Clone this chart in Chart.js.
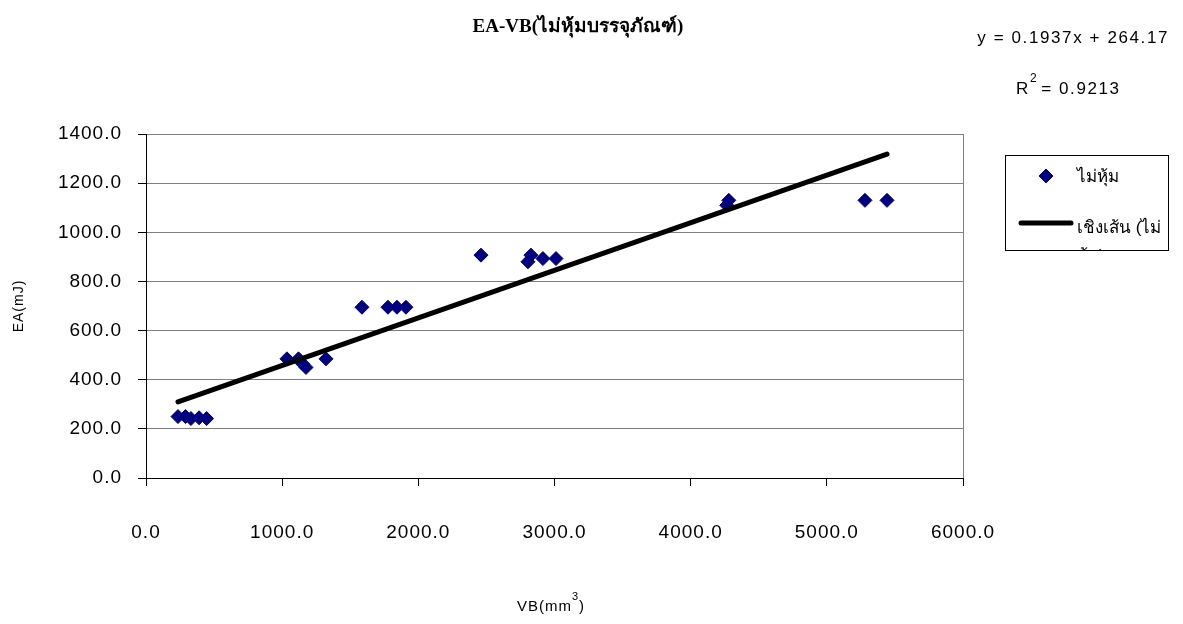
<!DOCTYPE html>
<html>
<head>
<meta charset="utf-8">
<script src="https://cdn.jsdelivr.net/npm/chart.js@4/dist/chart.umd.min.js"></script>
<style>
  html, body { margin: 0; padding: 0; background: #fff; }
  #wrap { width: 1183px; height: 624px; }
</style>
</head>
<body>
<div id="wrap"><canvas id="eaChart" width="1183" height="624"></canvas></div>
<script>
// data
const vb = [235, 290, 330, 390, 445, 1035, 1120, 1150, 1175, 1322, 1586, 1777, 1843, 1909, 2460, 2805, 2827, 2915, 3011, 4265, 4280, 5280, 5442];
const ea = [250, 250, 242, 245, 242, 485, 485, 465, 450, 485, 695, 695, 695, 695, 907, 880, 907, 893, 893, 1110, 1130, 1130, 1130];
const seriesName = 'ไม่หุ้ม';
const trendName = 'เชิงเส้น (ไม่หุ้ม)';
const chartTitle = 'EA-VB(ไม่หุ้มบรรจุภัณฑ์)';
const slope = 0.1937;
const intercept = 264.17;
const rSquared = 0.9213;
const xMin = 0, xMax = 6000, xStep = 1000;
const yMin = 0, yMax = 1400, yStep = 200;

const points = vb.map((v, i) => ({ x: v, y: ea[i] }));
const lo = Math.min(...vb), hi = Math.max(...vb);
const trend = [lo, hi].map(v => ({ x: v, y: slope * v + intercept }));

const SANS = '"Liberation Sans", Arial, sans-serif';
const NAVY = '#000080';

// title, equation, x axis title and the legend box
const extras = {
    id: 'extras',
    beforeDraw(chart) {
        chart.ctx.letterSpacing = '1px';
    },
    afterDraw(chart) {
        const ctx = chart.ctx;
        ctx.save();
        ctx.fillStyle = '#000';
        ctx.textBaseline = 'middle';

        ctx.letterSpacing = '0px';
        ctx.font = 'bold 19px "Liberation Serif", serif';
        ctx.textAlign = 'center';
        ctx.fillText(chartTitle, 578, 27);

        ctx.letterSpacing = '1.6px';
        ctx.font = '17px ' + SANS;
        ctx.textAlign = 'right';
        ctx.fillText('y = ' + slope + 'x + ' + intercept.toFixed(2), 1169, 38);

        // R squared with a raised 2
        ctx.textAlign = 'left';
        let x = 1016;
        ctx.fillText('R', x, 89);
        x += ctx.measureText('R').width;
        ctx.font = '12px ' + SANS;
        ctx.fillText('2', x, 79);
        x += ctx.measureText('2').width + 3;
        ctx.font = '17px ' + SANS;
        ctx.fillText('= ' + rSquared, x, 89);

        // x axis title with a raised 3
        ctx.letterSpacing = '1px';
        ctx.font = '15px ' + SANS;
        const a = 'VB(mm', b = '3', c = ')';
        const wa = ctx.measureText(a).width, wc = ctx.measureText(c).width;
        ctx.font = '11px ' + SANS;
        const wb = ctx.measureText(b).width;
        let tx = 551 - (wa + wb + wc) / 2;
        ctx.font = '15px ' + SANS;
        ctx.fillText(a, tx, 607);
        tx += wa;
        ctx.font = '11px ' + SANS;
        ctx.fillText(b, tx, 597);
        tx += wb;
        ctx.font = '15px ' + SANS;
        ctx.fillText(c, tx, 607);

        // legend
        ctx.strokeStyle = '#000';
        ctx.lineWidth = 1;
        ctx.strokeRect(1005.5, 155.5, 163, 95);
        ctx.beginPath();
        ctx.rect(1006, 156, 162, 94);
        ctx.clip();
        ctx.fillStyle = NAVY;
        ctx.strokeStyle = NAVY;
        Chart.helpers.drawPoint(ctx, { pointStyle: 'rectRot', radius: 7, borderWidth: 1 }, 1046, 176);
        ctx.strokeStyle = '#000';
        ctx.lineWidth = 5;
        ctx.lineCap = 'round';
        ctx.beginPath();
        ctx.moveTo(1021, 223);
        ctx.lineTo(1071, 223);
        ctx.stroke();
        ctx.fillStyle = '#000';
        ctx.letterSpacing = '0px';
        ctx.font = '17px ' + SANS;
        ctx.fillText(seriesName, 1077, 177);
        ctx.fillText('เชิงเส้น (ไม่', 1077, 228);
        ctx.fillText('หุ้ม)', 1077, 256);
        ctx.restore();
    }
};

new Chart(document.getElementById('eaChart'), {
    type: 'scatter',
    data: {
        datasets: [
            {
                label: trendName,
                data: trend,
                showLine: true,
                borderColor: '#000',
                borderWidth: 5,
                borderCapStyle: 'round',
                pointRadius: 0,
                order: 0
            },
            {
                label: seriesName,
                data: points,
                pointStyle: 'rectRot',
                pointRadius: 7,
                pointBackgroundColor: NAVY,
                pointBorderColor: NAVY,
                pointBorderWidth: 1,
                order: 1
            }
        ]
    },
    options: {
        responsive: false,
        animation: false,
        layout: { padding: { top: 134, right: 220, left: 0, bottom: 0 } },
        plugins: {
            legend: { display: false },
            tooltip: { enabled: false }
        },
        scales: {
            x: {
                type: 'linear',
                min: xMin,
                max: xMax,
                afterFit: s => { s.height = 146; },
                ticks: {
                    stepSize: xStep,
                    autoSkip: false,
                    maxRotation: 0,
                    padding: 35,
                    color: '#000',
                    font: { family: SANS, size: 19 },
                    callback: v => v.toFixed(1)
                },
                grid: {
                    color: c => (c.tick && c.tick.value === xMax) ? '#808080' : 'rgba(0,0,0,0)',
                    tickColor: '#000',
                    tickLength: 8
                },
                border: { color: '#000', width: 1 }
            },
            y: {
                min: yMin,
                max: yMax,
                afterFit: s => { s.width = 146; },
                ticks: {
                    stepSize: yStep,
                    padding: 16,
                    color: '#000',
                    font: { family: SANS, size: 19 },
                    callback: v => v.toFixed(1)
                },
                grid: {
                    color: c => (c.tick && c.tick.value === yMin) ? 'rgba(0,0,0,0)' : '#808080',
                    tickColor: '#000',
                    tickLength: 8
                },
                border: { color: '#000', width: 1 },
                title: {
                    display: true,
                    text: 'EA(mJ)',
                    color: '#000',
                    font: { family: SANS, size: 14 },
                    padding: { top: 11, bottom: 0 }
                }
            }
        }
    },
    plugins: [extras]
});
</script>
</body>
</html>
